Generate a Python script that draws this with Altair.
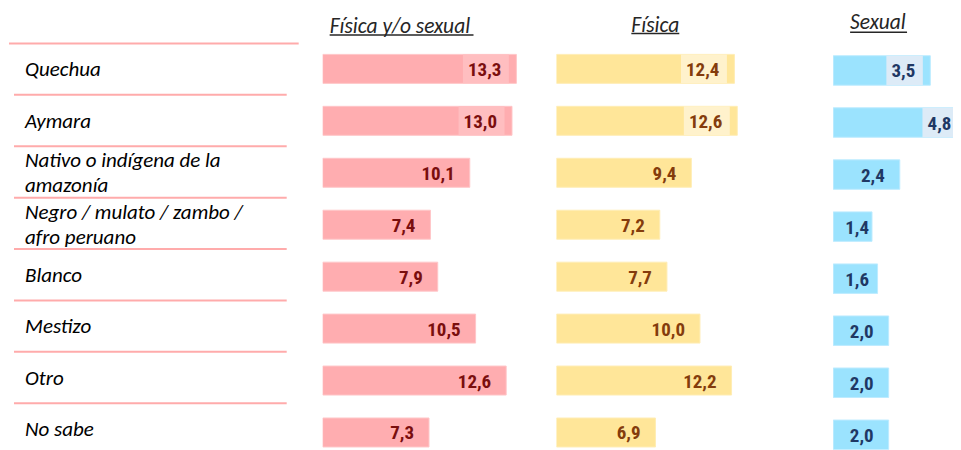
import altair as alt
import pandas as pd

categories = [
    "Quechua",
    "Aymara",
    "Nativo o indígena de la\namazonía",
    "Negro / mulato / zambo /\nafro peruano",
    "Blanco",
    "Mestizo",
    "Otro",
    "No sabe",
]
fisica_sexual = [13.3, 13.0, 10.1, 7.4, 7.9, 10.5, 12.6, 7.3]
fisica = [12.4, 12.6, 9.4, 7.2, 7.7, 10.0, 12.2, 6.9]
sexual = [3.5, 4.8, 2.4, 1.4, 1.6, 2.0, 2.0, 2.0]
boxed = ["Quechua", "Aymara"]
headers = ["Física y/o sexual", "Física", "Sexual"]

def lbl(v):
    return f"{v:.1f}".replace(".", ",")

df = pd.DataFrame({
    "cat": categories,
    "idx": list(range(len(categories))),
    "fs": fisica_sexual,
    "f": fisica,
    "s": sexual,
})
for c in ["fs", "f", "s"]:
    df[c + "_lbl"] = df[c].map(lbl)

two_line = [c for c in categories if "\n" in c]
one_line = [c for c in categories if "\n" not in c]

H = 442
NUM_FONT = "Roboto Condensed"
TXT_FONT = "Carlito"
LINE_COLOR = "#FFABAB"

# ---------- label panel ----------
ydom = [-1.1856, 7.4052]
ylab = alt.Y("idx:Q", axis=None, scale=alt.Scale(domain=ydom, nice=False, zero=False, reverse=True))
yline = alt.Y("yl:Q", axis=None, scale=alt.Scale(domain=ydom, nice=False, zero=False, reverse=True))
base_l = alt.Chart(df).transform_calculate(yl="datum.idx - 0.5")
top_line = base_l.transform_filter("datum.idx == 0").mark_rule(
    color=LINE_COLOR, strokeWidth=2).encode(x=alt.value(0), x2=alt.value(290), y=yline)
other_lines = base_l.transform_filter("datum.idx > 0").mark_rule(
    color=LINE_COLOR, strokeWidth=2).encode(x=alt.value(5), x2=alt.value(278), y=yline)
txt_style = dict(align="left", baseline="middle", lineBreak="\n", lineHeight=25,
                 font=TXT_FONT, fontStyle="italic", fontSize=21, color="#000000")
labels1 = base_l.transform_filter(alt.FieldOneOfPredicate(field="cat", oneOf=one_line)).mark_text(
    dy=1, **txt_style).encode(x=alt.value(16), y=ylab, text="cat:N")
labels2 = base_l.transform_filter(alt.FieldOneOfPredicate(field="cat", oneOf=two_line)).mark_text(
    dy=-10.5, **txt_style).encode(x=alt.value(16), y=ylab, text="cat:N")
label_panel = alt.layer(top_line, other_lines, labels1, labels2).properties(width=314, height=H)


def bar_panel(field, width, px_per_unit, fill, stroke, boxfill, tcolor, box_w, ysc,
              header, hx, hy, ux0, ux1, uy, min_right):
    xmax = width / px_per_unit
    x = alt.X(f"{field}:Q", axis=None, scale=alt.Scale(domain=[0, xmax], nice=False, zero=True))
    xl = alt.X("lx:Q", axis=None, scale=alt.Scale(domain=[0, xmax], nice=False, zero=True))
    y = alt.Y("cat:N", axis=None, sort=categories, scale=alt.Scale(**ysc))
    base = alt.Chart(df)
    bars = base.mark_bar(color=fill, stroke=stroke, strokeWidth=1, clip=True).encode(x=x, y=y)
    boxes = base.transform_filter(alt.FieldOneOfPredicate(field="cat", oneOf=boxed)).mark_bar(
        color=boxfill, xOffset=-(box_w + 7.5), x2Offset=-7.5, clip=True).encode(
        x=x, x2=alt.X2(f"{field}:Q"), y=y)
    # label sits 15px inside the bar end, but never closer than min_right px to the bar start
    texts = base.transform_calculate(
        lx=f"max(datum.{field} - {15 / px_per_unit}, {min_right / px_per_unit})"
    ).mark_text(align="right", baseline="middle", dy=1, font=NUM_FONT,
                fontSize=19, fontWeight="bold", color=tcolor).encode(
        x=xl, y=y, text=f"{field}_lbl:N")
    hdf = pd.DataFrame({"t": [header]})
    htext = alt.Chart(hdf).mark_text(align="left", baseline="alphabetic", font=TXT_FONT,
                                     fontStyle="italic", fontSize=21.5, color="#262626").encode(
        x=alt.value(hx), y=alt.value(hy), text="t:N")
    uline = alt.Chart(hdf).mark_rule(color="#262626", strokeWidth=1.5).encode(
        x=alt.value(ux0), x2=alt.value(ux1), y=alt.value(uy))
    return alt.layer(bars, boxes, texts, htext, uline).properties(width=width, height=H)


ysc_main = dict(paddingInner=0.4423, paddingOuter=0.4712, align=0.943)
ysc_sex = dict(paddingInner=0.4338, paddingOuter=0.4587, align=0.995)

p1 = bar_panel("fs", 234, 14.58, "#FFADB0", "#FFC6C8", "#FFBEC0", "#7A0E0E", 46, ysc_main,
               headers[0], 7, 24.5, 7, 151, 26.7, 36)
p2 = bar_panel("f", 277, 14.37, "#FFE699", "#FFEDB5", "#FFF2CC", "#843C0C", 46, ysc_main,
               headers[1], 75, 23.5, 75, 123, 25.3, 36)
p3 = bar_panel("s", 120, 27.8, "#9BE3FE", "#BDEBFF", "#DDEBF7", "#1F3864", 36.5, ysc_sex,
               headers[2], 17, 21, 17, 74, 24, 36)

chart = alt.hconcat(label_panel, p1, p2, p3, spacing=0).properties(padding=0).configure_view(stroke=None)

chart.save("out.html", embed_options={"renderer": "svg", "actions": False})
